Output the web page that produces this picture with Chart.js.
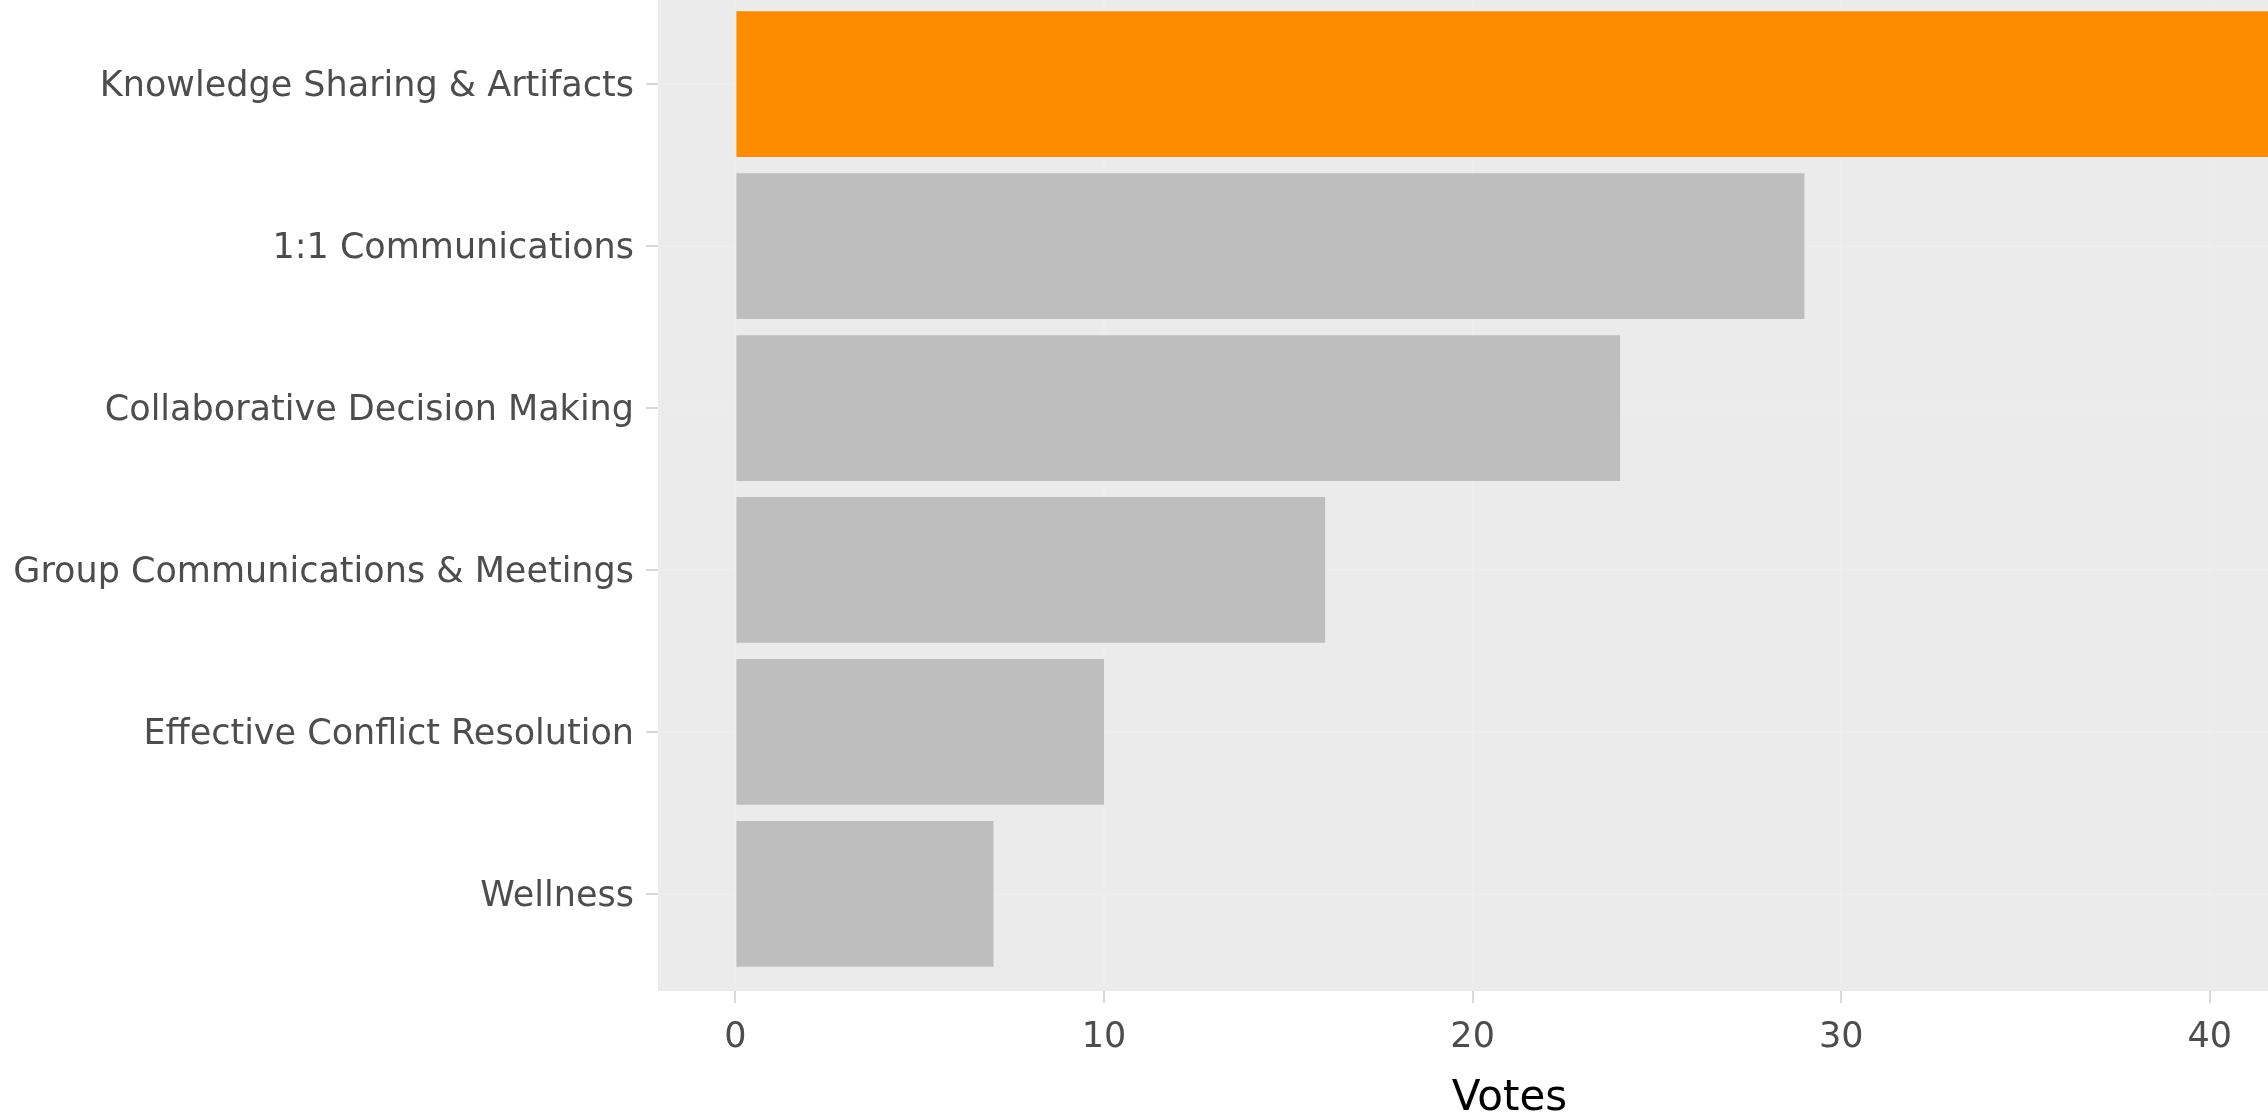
<!DOCTYPE html>
<html>
<head>
<meta charset="utf-8">
<script src="https://cdn.jsdelivr.net/npm/chart.js@4/dist/chart.umd.min.js"></script>
<style>
  html, body { margin: 0; padding: 0; background: #ffffff; overflow: hidden; width: 2268px; height: 1112px; }
  #wrap { position: absolute; left: 0; top: -13px; width: 2361px; height: 1140px; }
  canvas { display: block; }
</style>
</head>
<body>
<div id="wrap"><canvas id="c" width="2361" height="1140"></canvas></div>
<script>
const categories = [
  "Knowledge Sharing & Artifacts",
  "1:1 Communications",
  "Collaborative Decision Making",
  "Group Communications & Meetings",
  "Effective Conflict Resolution",
  "Wellness"
];
const votes = [42, 29, 24, 16, 10, 7];
const barColors = ["#FF8C00", "#BEBEBE", "#BEBEBE", "#BEBEBE", "#BEBEBE", "#BEBEBE"];
const xTicks = [0, 10, 20, 30, 40];
const xTitle = "Votes";

const panelBg = {
  id: 'panelBg',
  beforeDraw(chart) {
    const a = chart.chartArea, ctx = chart.ctx;
    ctx.save();
    ctx.fillStyle = '#EBEBEB';
    ctx.fillRect(a.left, a.top, a.right - a.left, a.bottom - a.top);
    ctx.restore();
  }
};

const maxV = Math.max(...votes);
new Chart(document.getElementById('c'), {
  type: 'bar',
  data: {
    datasets: [{
      data: votes.map((v, i) => ({ x: v, y: i })),
      backgroundColor: barColors,
      borderWidth: 0,
      barPercentage: 0.9,
      categoryPercentage: 1.0
    }]
  },
  options: {
    indexAxis: 'y',
    responsive: false,
    devicePixelRatio: 1,
    animation: false,
    layout: { padding: 0 },
    plugins: { legend: { display: false }, tooltip: { enabled: false } },
    scales: {
      x: {
        type: 'linear',
        min: -0.05 * maxV,
        max: 1.05 * maxV,
        afterBuildTicks(s) { s.ticks = xTicks.map(v => ({ value: v })); },
        afterFit(s) { s.height = 136; s.paddingLeft = 0; s.paddingRight = 0; },
        grid: { color: '#EDEDED', lineWidth: 2, tickColor: '#D9D9D9', tickLength: 12, drawOnChartArea: true },
        border: { display: false },
        ticks: { color: '#4D4D4D', padding: 14, font: { family: 'DejaVu Sans', size: 35 }, maxRotation: 0 },
        title: { display: true, text: xTitle, color: '#000000', font: { family: 'DejaVu Sans', size: 42 }, padding: { top: 0, bottom: 3 } }
      },
      y: {
        type: 'linear',
        reverse: true,
        offset: false,
        min: -0.6,
        max: categories.length - 1 + 0.6,
        afterBuildTicks(s) { s.ticks = categories.map((_, i) => ({ value: i })); },
        afterFit(s) { s.width = 658; s.paddingTop = 0; s.paddingBottom = 0; },
        grid: { color: '#EDEDED', lineWidth: 2, tickColor: '#D9D9D9', tickLength: 12, offset: false },
        border: { display: false },
        ticks: {
          color: '#4D4D4D', padding: 12, labelOffset: 3, font: { family: 'DejaVu Sans', size: 35 },
          callback: (v) => categories[v] !== undefined ? categories[v] : ''
        }
      }
    }
  },
  plugins: [panelBg]
});
</script>
</body>
</html>
